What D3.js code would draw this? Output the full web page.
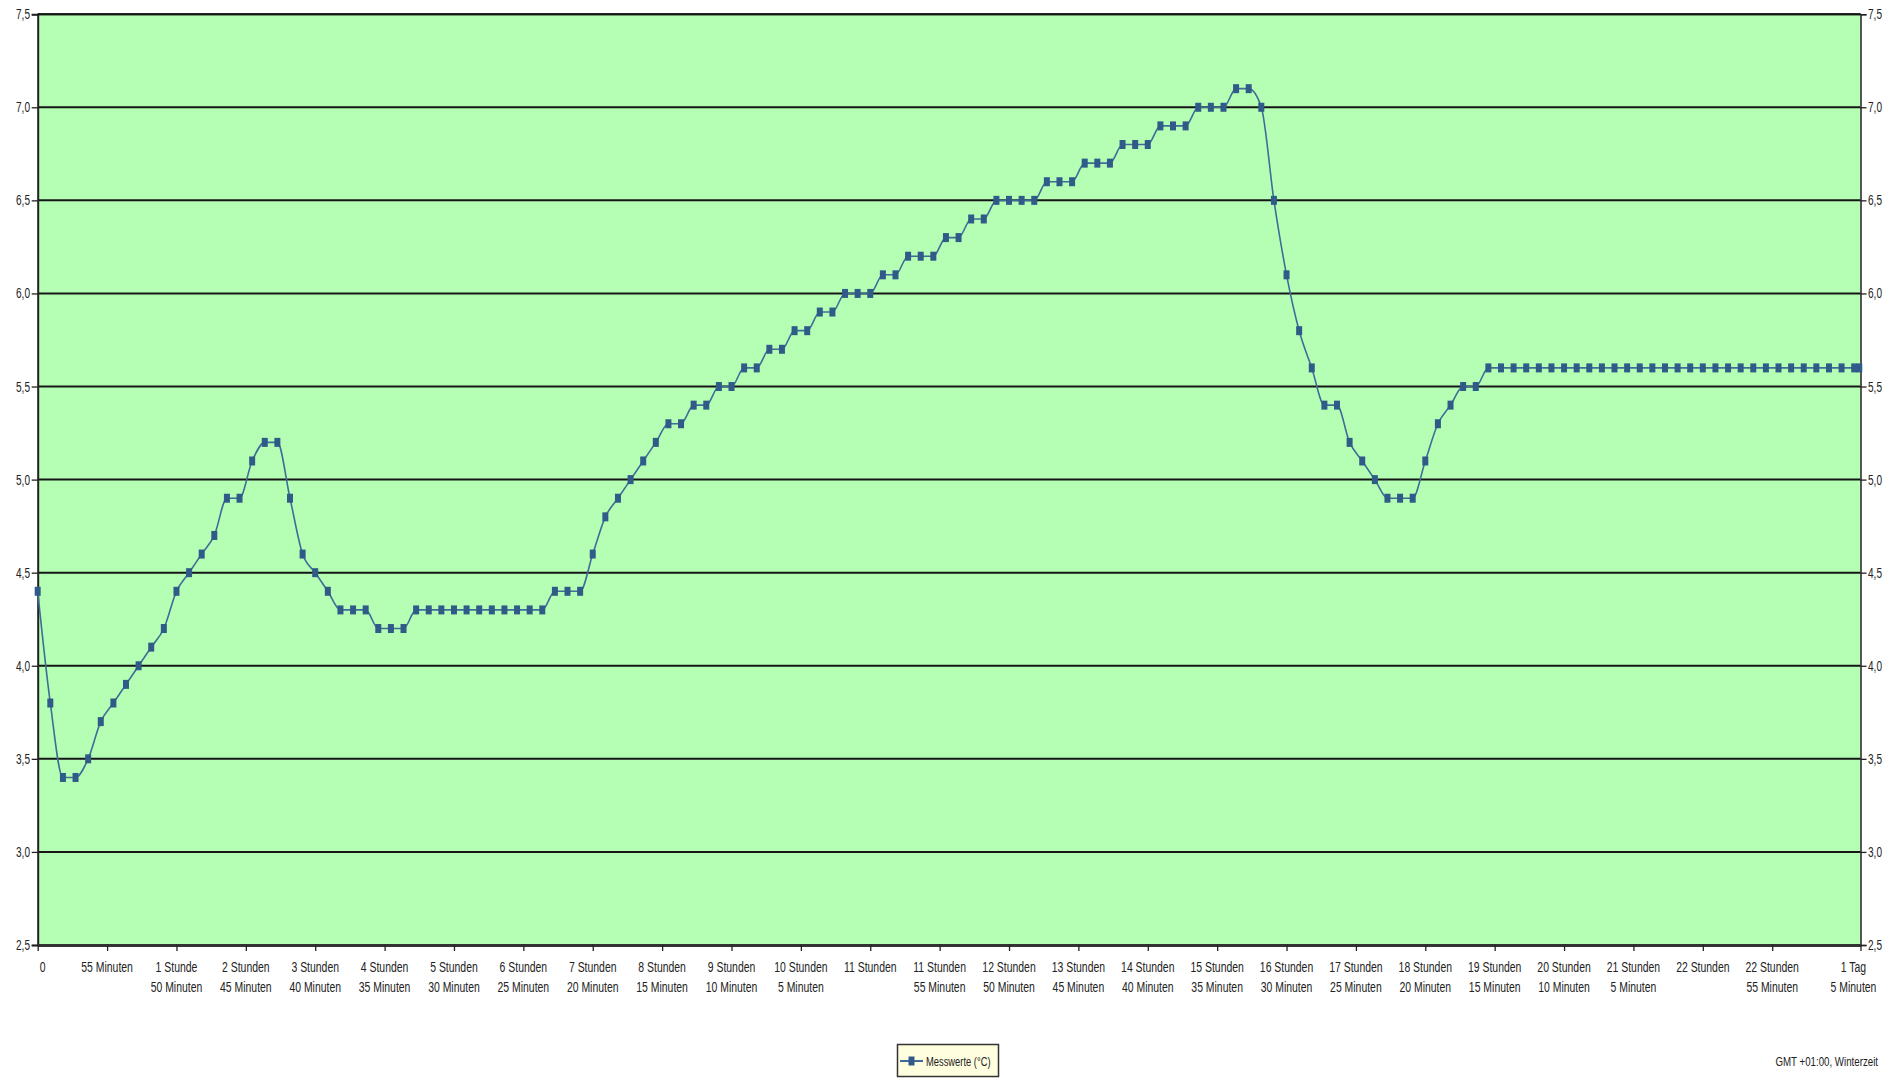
<!DOCTYPE html>
<html>
<head>
<meta charset="utf-8">
<script src="https://cdn.jsdelivr.net/npm/d3@7"></script>
<style>
  body { margin: 0; background: #ffffff; }
  svg text { font-family: "Liberation Sans", Arial, sans-serif; fill: #222; }
</style>
</head>
<body>
<svg id="chart" width="1899" height="1082"></svg>
<script>
// ---- data ----
const minutes = [
  0,10,20,30,40,50,60,70,80,90,100,110,120,130,140,150,160,170,180,190,
  200,210,220,230,240,250,260,270,280,290,300,310,320,330,340,350,360,370,380,390,
  400,410,420,430,440,450,460,470,480,490,500,510,520,530,540,550,560,570,580,590,
  600,610,620,630,640,650,660,670,680,690,700,710,720,730,740,750,760,770,780,790,
  800,810,820,830,840,850,860,870,880,890,900,910,920,930,940,950,960,970,980,990,
  1000,1010,1020,1030,1040,1050,1060,1070,1080,1090,1100,1110,1120,1130,1140,1150,1160,1170,1180,1190,
  1200,1210,1220,1230,1240,1250,1260,1270,1280,1290,1300,1310,1320,1330,1340,1350,1360,1370,1380,1390,
  1400,1410,1420,1430,1440,1444
];
const messwerte = [
  4.4,3.8,3.4,3.4,3.5,3.7,3.8,3.9,4.0,4.1,4.2,4.4,4.5,4.6,4.7,4.9,4.9,5.1,5.2,5.2,
  4.9,4.6,4.5,4.4,4.3,4.3,4.3,4.2,4.2,4.2,4.3,4.3,4.3,4.3,4.3,4.3,4.3,4.3,4.3,4.3,
  4.3,4.4,4.4,4.4,4.6,4.8,4.9,5.0,5.1,5.2,5.3,5.3,5.4,5.4,5.5,5.5,5.6,5.6,5.7,5.7,
  5.8,5.8,5.9,5.9,6.0,6.0,6.0,6.1,6.1,6.2,6.2,6.2,6.3,6.3,6.4,6.4,6.5,6.5,6.5,6.5,
  6.6,6.6,6.6,6.7,6.7,6.7,6.8,6.8,6.8,6.9,6.9,6.9,7.0,7.0,7.0,7.1,7.1,7.0,6.5,6.1,
  5.8,5.6,5.4,5.4,5.2,5.1,5.0,4.9,4.9,4.9,5.1,5.3,5.4,5.5,5.5,5.6,5.6,5.6,5.6,5.6,
  5.6,5.6,5.6,5.6,5.6,5.6,5.6,5.6,5.6,5.6,5.6,5.6,5.6,5.6,5.6,5.6,5.6,5.6,5.6,5.6,
  5.6,5.6,5.6,5.6,5.6,5.6
];
const xTickMinutes = [0,55,110,165,220,275,330,385,440,495,550,605,660,715,770,825,880,935,990,1045,1100,1155,1210,1265,1320,1375,1445];
const xTickLabels = [
  ["0"],["55 Minuten"],["1 Stunde","50 Minuten"],["2 Stunden","45 Minuten"],["3 Stunden","40 Minuten"],
  ["4 Stunden","35 Minuten"],["5 Stunden","30 Minuten"],["6 Stunden","25 Minuten"],["7 Stunden","20 Minuten"],
  ["8 Stunden","15 Minuten"],["9 Stunden","10 Minuten"],["10 Stunden","5 Minuten"],["11 Stunden"],
  ["11 Stunden","55 Minuten"],["12 Stunden","50 Minuten"],["13 Stunden","45 Minuten"],["14 Stunden","40 Minuten"],
  ["15 Stunden","35 Minuten"],["16 Stunden","30 Minuten"],["17 Stunden","25 Minuten"],["18 Stunden","20 Minuten"],
  ["19 Stunden","15 Minuten"],["20 Stunden","10 Minuten"],["21 Stunden","5 Minuten"],["22 Stunden"],
  ["22 Stunden","55 Minuten"],["1 Tag","5 Minuten"]
];
const yTicks = [2.5,3.0,3.5,4.0,4.5,5.0,5.5,6.0,6.5,7.0,7.5];
const seriesName = "Messwerte (°C)";
const footnote = "GMT +01:00, Winterzeit";

// ---- layout ----
const svg = d3.select("#chart");
const L = 37.7, R = 1860.5, T = 14.2, B = 945;
const SX = 0.72; // condensed text
const x = d3.scaleLinear().domain([0, 1445]).range([L, R]);
const y = d3.scaleLinear().domain([2.5, 7.5]).range([B, T]);
const fmt = v => v.toFixed(1).replace(".", ",");

// narrow text helper
function ntext(parent, px, py, str, size, anchor) {
  return parent.append("text")
    .attr("transform", `translate(${px},${py}) scale(${SX},1)`)
    .attr("text-anchor", anchor || "start")
    .style("font-size", size + "px")
    .text(str);
}

// plot background
svg.append("rect").attr("x", L).attr("y", T).attr("width", R - L).attr("height", B - T).attr("fill", "#b5ffb5");

// gridlines
svg.append("g").selectAll("line").data(yTicks.filter(v => v > 2.5)).join("line")
  .attr("x1", L).attr("x2", R).attr("y1", d => y(d)).attr("y2", d => y(d))
  .attr("stroke", "#161616").attr("stroke-width", 2);

// left / right axes (lines and ticks by d3 axis, labels drawn condensed)
const leftAxis = svg.append("g").attr("transform", `translate(${L},0)`)
  .call(d3.axisLeft(y).tickValues(yTicks).tickFormat("").tickSize(6));
const rightAxis = svg.append("g").attr("transform", `translate(${R},0)`)
  .call(d3.axisRight(y).tickValues(yTicks).tickFormat("").tickSize(6));
[leftAxis, rightAxis].forEach(g => {
  g.select(".domain").attr("stroke", "#222").attr("stroke-width", 1.5);
  g.selectAll(".tick line").attr("stroke", "#222").attr("stroke-width", 1.3);
});
leftAxis.select(".domain").attr("stroke-width", 2);
const yl = svg.append("g");
yTicks.forEach(v => {
  ntext(yl, 30, y(v) + 5, fmt(v), 14, "end");
  ntext(yl, 1868, y(v) + 5, fmt(v), 14, "start");
});

// bottom axis
const bottomAxis = svg.append("g").attr("transform", `translate(0,${B})`)
  .call(d3.axisBottom(x).tickValues(xTickMinutes).tickFormat("").tickSize(6).tickSizeOuter(0));
bottomAxis.select(".domain").attr("stroke", "#333").attr("stroke-width", 3);
bottomAxis.selectAll(".tick line").attr("stroke", "#222").attr("stroke-width", 1.3);

// x tick labels
const xl = svg.append("g");
xTickMinutes.forEach((m, i) => {
  const last = i === xTickMinutes.length - 1;
  const px = i === 0 ? x(m) + 5 : (last ? x(m) - 7 : x(m));
  xTickLabels[i].forEach((s, k) => {
    ntext(xl, px, 971.5 + k * 20, s, 14.5, "middle");
  });
});

// series line
const line = d3.line().x((d, i) => x(minutes[i])).y(d => y(d)).curve(d3.curveMonotoneX);
svg.append("path").datum(messwerte).attr("d", line)
  .attr("fill", "none").attr("stroke", "#3f6d98").attr("stroke-width", 1.6);

// markers
svg.append("g").selectAll("rect").data(messwerte).join("rect")
  .attr("x", (d, i) => x(minutes[i]) - 3).attr("y", d => y(d) - 4.5)
  .attr("width", 6).attr("height", 9).attr("fill", "#305b88");

// top border
svg.append("line").attr("x1", L).attr("x2", R).attr("y1", T).attr("y2", T)
  .attr("stroke", "#161616").attr("stroke-width", 2);

// legend
const lg = svg.append("g");
lg.append("rect").attr("x", 897.5).attr("y", 1044.5).attr("width", 101).attr("height", 32)
  .attr("fill", "#ffffe0").attr("stroke", "#333").attr("stroke-width", 1.5);
lg.append("line").attr("x1", 900).attr("x2", 923).attr("y1", 1061).attr("y2", 1061)
  .attr("stroke", "#3f6d98").attr("stroke-width", 2);
lg.append("rect").attr("x", 908.5).attr("y", 1056.5).attr("width", 6).attr("height", 9).attr("fill", "#305b88");
ntext(lg, 926, 1066, seriesName, 13, "start");

// footnote
ntext(svg, 1878, 1066, footnote, 13.5, "end");
</script>
</body>
</html>
